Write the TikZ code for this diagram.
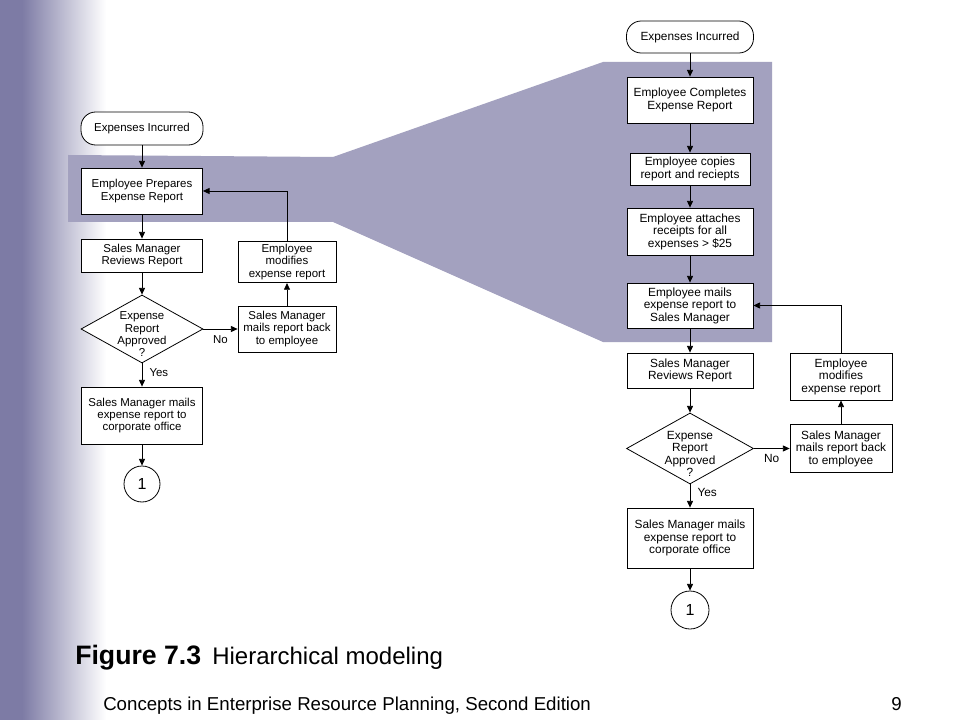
\documentclass[tikz,border=0pt]{standalone}
\usepackage{fontspec}
\setmainfont{Liberation Sans}
\usetikzlibrary{arrows.meta,shapes.geometric}
\definecolor{sidebar}{HTML}{7D7BA5}
\definecolor{funnel}{HTML}{A3A1BF}
\begin{document}
\begin{tikzpicture}[x=0.75pt,y=-0.75pt,
  every node/.style={font=\fontsize{8.6}{9.2}\selectfont},
  box/.style={draw,fill=white,line width=0.6pt,align=center,inner sep=0pt},
  term/.style={box,rounded corners=11pt},
  dec/.style={draw,fill=white,diamond,inner sep=0pt,line width=0.6pt},
  conn/.style={draw,fill=white,circle,inner sep=0pt,line width=0.6pt,font=\fontsize{12}{14}\selectfont},
  arr/.style={-{Triangle[length=5pt,width=4.5pt]},line width=0.6pt},
  lbl/.style={font=\fontsize{8.6}{9}\selectfont},
  dtext/.style={align=center,font=\fontsize{8.6}{9.3}\selectfont},
  rside/.style={font=\fontsize{8.9}{9.4}\selectfont}]
\useasboundingbox (0,0) rectangle (960,720);
\fill[white] (0,0) rectangle (960,720);
% left sidebar gradient
\fill[sidebar] (0,0) rectangle (22,720);
\shade[left color=sidebar,right color=white] (22,0) rectangle (106,720);
% zoom funnel
\fill[funnel] (68,155) -- (333,157) -- (603,62) -- (772,62) -- (772,342) -- (603,342) -- (333,222) -- (68,222) -- cycle;

% ---------- left chart ----------
\node[term,minimum width=91.5pt,minimum height=24.75pt] (L0) at (142,128.5) {Expenses Incurred};
\node[box,minimum width=90.75pt,minimum height=34.5pt] (L1) at (142,191) {Employee Prepares\\Expense Report};
\node[box,minimum width=90.75pt,minimum height=24.75pt] (L2) at (142,255.5) {Sales Manager\\Reviews Report};
\node[dec,minimum width=91.5pt,minimum height=51pt,
      label={[dtext,yshift=-4pt]center:{Expense\\Report\\Approved\\?}}] (L3) at (142,329) {};
\node[box,minimum width=90.75pt,minimum height=42.75pt] (L4) at (142,415.5) {Sales Manager mails\\expense report to\\corporate office};
\node[conn,minimum size=27pt] (L5) at (142,484) {1};
\node[box,minimum width=73.5pt,minimum height=31pt] (L6) at (287,262) {Employee\\modifies\\expense report};
\node[box,minimum width=73.5pt,minimum height=34.5pt] (L7) at (287,329) {Sales Manager\\mails report back\\to employee};

\draw[arr] (L0) -- (L1);
\draw[arr] (L1) -- (L2);
\draw[arr] (L2) -- (L3);
\draw[arr] (L3.south) -- (L4.north) node[lbl,pos=0.4,right,xshift=2pt] {Yes};
\draw[arr] (L4) -- (L5);
\draw[arr] (L3.east) -- (L7.west) node[lbl,midway,below,yshift=-1pt] {No};
\draw[arr] (L7) -- (L6);
\draw[arr] (L6.north) |- (L1.east);

% ---------- right chart ----------
\begin{scope}[every node/.append style={rside}]
\node[term,minimum width=95.25pt,minimum height=24pt] (R0) at (690,37) {Expenses Incurred};
\node[box,minimum width=94.5pt,minimum height=34.5pt] (R1) at (690,100) {Employee Completes\\Expense Report};
\node[box,minimum width=90pt,minimum height=24pt] (R2) at (690,169) {Employee copies\\report and reciepts};
\node[box,minimum width=94.5pt,minimum height=35.25pt] (R3) at (690,231.5) {Employee attaches\\receipts for all\\expenses > \$25};
\node[box,minimum width=94.5pt,minimum height=33.75pt] (R4) at (690,305.5) {Employee mails\\expense report to\\Sales Manager};
\node[box,minimum width=94.5pt,minimum height=26.25pt] (R5) at (690,370.5) {Sales Manager\\Reviews Report};
\node[dec,minimum width=95.25pt,minimum height=53.25pt,
      label={[dtext,rside,yshift=-4pt]center:{Expense\\Report\\Approved\\?}}] (R6) at (690,448.5) {};
\node[box,minimum width=94.5pt,minimum height=45pt] (R7) at (690,538) {Sales Manager mails\\expense report to\\corporate office};
\node[conn,minimum size=28.5pt,font=\fontsize{12}{14}\selectfont] (R8) at (690,610) {1};
\node[box,minimum width=76.5pt,minimum height=35.25pt] (R9) at (841,376.5) {Employee\\modifies\\expense report};
\node[box,minimum width=76.5pt,minimum height=36pt] (R10) at (841,448.5) {Sales Manager\\mails report back\\to employee};

\draw[arr] (R0) -- (R1);
\draw[arr] (R1) -- (R2);
\draw[arr] (R2) -- (R3);
\draw[arr] (R3) -- (R4);
\draw[arr] (R4) -- (R5);
\draw[arr] (R5) -- (R6);
\draw[arr] (R6.south) -- (R7.north) node[lbl,rside,pos=0.35,right,xshift=2pt] {Yes};
\draw[arr] (R7) -- (R8);
\draw[arr] (R6.east) -- (R10.west) node[lbl,rside,midway,below,yshift=-1pt] {No};
\draw[arr] (R10) -- (R9);
\draw[arr] (R9.north) |- (R4.east);
\end{scope}

% ---------- caption and footer ----------
\node[anchor=base west,inner sep=0pt,font=\fontsize{20}{24}\selectfont\bfseries] (cap) at (75,664) {Figure 7.3};
\node[anchor=base west,inner sep=0pt,font=\fontsize{18}{22}\selectfont] (capt) at (212,664) {Hierarchical modeling};
\node[anchor=base west,inner sep=0pt,font=\fontsize{14}{17}\selectfont] (foot) at (103,710) {Concepts in Enterprise Resource Planning, Second Edition};
\node[anchor=base east,inner sep=0pt,font=\fontsize{14}{17}\selectfont] (pg) at (902,710) {9};
\end{tikzpicture}
\end{document}
